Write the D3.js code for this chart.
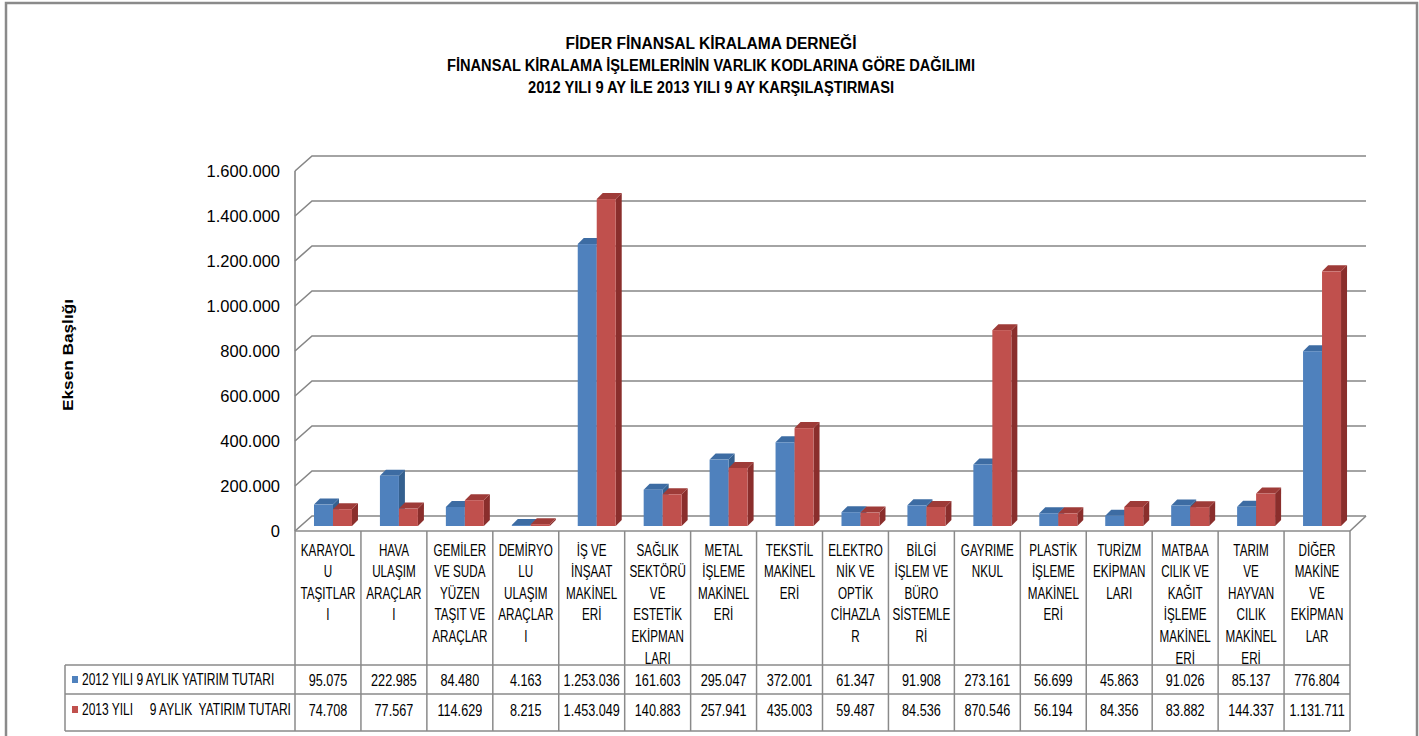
<!DOCTYPE html>
<html><head><meta charset="utf-8">
<script src="https://cdn.jsdelivr.net/npm/d3@7"></script>
<style>
html,body{margin:0;padding:0;background:#fff;}
svg{display:block;}
text{font-family:"Liberation Sans",Arial,sans-serif;fill:#000;}
</style></head>
<body>
<svg id="c" width="1419" height="736"></svg>
<script>
// ---------------- data ----------------
const titleLines = [
  "FİDER FİNANSAL KİRALAMA DERNEĞİ",
  "FİNANSAL KİRALAMA İŞLEMLERİNİN VARLIK KODLARINA GÖRE DAĞILIMI",
  "2012 YILI 9 AY İLE 2013 YILI 9 AY KARŞILAŞTIRMASI"
];
const axisTitle = "Eksen Başlığı";
const categories = [
  ["KARAYOL","U","TAŞITLAR","I"],
  ["HAVA","ULAŞIM","ARAÇLAR","I"],
  ["GEMİLER","VE SUDA","YÜZEN","TAŞIT VE","ARAÇLAR"],
  ["DEMİRYO","LU","ULAŞIM","ARAÇLAR","I"],
  ["İŞ VE","İNŞAAT","MAKİNEL","ERİ"],
  ["SAĞLIK","SEKTÖRÜ","VE","ESTETİK","EKİPMAN","LARI"],
  ["METAL","İŞLEME","MAKİNEL","ERİ"],
  ["TEKSTİL","MAKİNEL","ERİ"],
  ["ELEKTRO","NİK VE","OPTİK","CİHAZLA","R"],
  ["BİLGİ","İŞLEM VE","BÜRO","SİSTEMLE","Rİ"],
  ["GAYRIME","NKUL"],
  ["PLASTİK","İŞLEME","MAKİNEL","ERİ"],
  ["TURİZM","EKİPMAN","LARI"],
  ["MATBAA","CILIK VE","KAĞIT","İŞLEME","MAKİNEL","ERİ"],
  ["TARIM","VE","HAYVAN","CILIK","MAKİNEL","ERİ"],
  ["DİĞER","MAKİNE","VE","EKİPMAN","LAR"]
];
const seriesNames = ["2012 YILI 9 AYLIK YATIRIM TUTARI", "2013 YILI     9 AYLIK  YATIRIM TUTARI"];
const values2012 = [95075,222985,84480,4163,1253036,161603,295047,372001,61347,91908,273161,56699,45863,91026,85137,776804];
const values2013 = [74708,77567,114629,8215,1453049,140883,257941,435003,59487,84536,870546,56194,84356,83882,144337,1131711];
const yTicks = [0,200000,400000,600000,800000,1000000,1200000,1400000,1600000];

// ---------------- layout ----------------
const svg = d3.select("#c");
const loc = d3.formatLocale({decimal:",", thousands:".", grouping:[3], currency:["",""]});
const fmt = loc.format(",d");

const left = 295, right = 1350;        // front edge of plot / table columns
const depthX = 17, depthY = 15;        // wall depth offset
const floorFront = 531, floorBack = floorFront - depthY;
const yMax = 1600000, plotH = 360;

const x = d3.scaleBand().domain(d3.range(categories.length)).range([left, right]).padding(0);
const yBack = d3.scaleLinear().domain([0, yMax]).range([floorBack, floorBack - plotH]);
const yFront = d3.scaleLinear().domain([0, yMax]).range([floorFront, floorFront - plotH]);
const barBase = floorFront - 5;
const yBar = d3.scaleLinear().domain([0, yMax]).range([barBase, barBase - plotH]);

const gridCol = "#868686";
const colors = [
  {front:"#4F81BD", top:"#3D6CA3", side:"#34608F"},
  {front:"#C0504D", top:"#9E3B38", side:"#8A2E2C"}
];

// outer frame
svg.append("rect").attr("x",6).attr("y",3).attr("width",1411).attr("height",745)
  .attr("fill","none").attr("stroke","#8a8a8a").attr("stroke-width",2.5);

// title
const titleWidths = [291, 528, 366];
const titleBase = [48.5, 70.5, 93];
titleLines.forEach((t,i)=>{
  svg.append("text").attr("x",711).attr("y",titleBase[i]).attr("text-anchor","middle")
    .attr("font-weight","bold").attr("font-size",16)
    .attr("textLength",titleWidths[i]).attr("lengthAdjust","spacingAndGlyphs").text(t);
});

// axis title
svg.append("text").attr("transform","translate(73,355) rotate(-90)").attr("text-anchor","middle")
  .attr("font-weight","bold").attr("font-size",15.5).attr("textLength",112)
  .attr("lengthAdjust","spacingAndGlyphs").text(axisTitle);

// gridlines (back wall + left side wall)
const grid = svg.append("g").attr("stroke",gridCol).attr("stroke-width",1.6).attr("fill","none");
yTicks.forEach(v=>{
  grid.append("path").attr("d",
    `M${left},${yFront(v)}L${left+depthX},${yBack(v)}L${right+depthX-1},${yBack(v)}`);
});
grid.append("line").attr("x1",left).attr("x2",left).attr("y1",yFront(yMax)).attr("y2",floorFront);
grid.append("line").attr("x1",right).attr("x2",right+depthX-1).attr("y1",floorFront).attr("y2",floorBack);

// y axis labels
const yAxis = d3.axisLeft(yFront).tickValues(yTicks).tickFormat(fmt).tickSize(0).tickPadding(0);
const ag = svg.append("g").attr("transform","translate(280,0)").call(yAxis);
ag.select(".domain").remove();
ag.selectAll("text").attr("font-size",16.5).attr("font-family","'Liberation Sans',Arial,sans-serif")
  .attr("fill","#000").attr("dy","0.36em");

// bars
const bw = x.bandwidth();
const barW = bw*0.288, barOff = bw*0.288, bd = 6;
function drawBar(g, xv, v, c){
  const yt = yBar(v), yb = barBase;
  g.append("path").attr("fill",c.side)
    .attr("d",`M${xv+barW},${yt}L${xv+barW+bd},${yt-bd}L${xv+barW+bd},${yb-bd}L${xv+barW},${yb}Z`);
  g.append("path").attr("fill",c.top)
    .attr("d",`M${xv},${yt}L${xv+bd},${yt-bd}L${xv+barW+bd},${yt-bd}L${xv+barW},${yt}Z`);
  g.append("rect").attr("x",xv).attr("y",yt).attr("width",barW).attr("height",yb-yt).attr("fill",c.front);
}
const bars = svg.append("g");
categories.forEach((c,i)=>{
  const g = bars.append("g");
  drawBar(g, x(i)+barOff, values2012[i], colors[0]);
  drawBar(g, x(i)+barOff+barW, values2013[i], colors[1]);
});

// data table
const rowTop = 665, rowMid = 694, rowBot = 731, legLeft = 65;
const tg = svg.append("g").attr("stroke","#8a8a8a").attr("stroke-width",1.5);
tg.append("line").attr("x1",left).attr("x2",right).attr("y1",floorFront).attr("y2",floorFront);
[rowTop,rowMid,rowBot].forEach(yv=>{
  tg.append("line").attr("x1",legLeft).attr("x2",right).attr("y1",yv).attr("y2",yv);
});
tg.append("line").attr("x1",legLeft).attr("x2",legLeft).attr("y1",rowTop).attr("y2",rowBot);
d3.range(categories.length+1).forEach(i=>{
  const xv = i<categories.length ? x(i) : right;
  tg.append("line").attr("x1",xv).attr("x2",xv).attr("y1",floorFront).attr("y2",rowBot);
});

// scaled text helper
function stext(g, xv, yv, t, size, sx, anchor){
  return g.append("text").attr("transform",`translate(${xv},${yv}) scale(${sx},1)`)
    .attr("text-anchor",anchor||"middle").attr("font-size",size)
    .style("white-space","pre").text(t);
}
const lab = svg.append("g");
categories.forEach((lines,i)=>{
  const cx = x(i)+bw/2;
  lines.forEach((l,j)=> stext(lab, cx, 555.5 + j*21.6, l, 16, 0.73));
  stext(lab, cx, 685.5, fmt(values2012[i]), 16, 0.79);
  stext(lab, cx, 715.5, fmt(values2013[i]), 16, 0.79);
});
// legend keys
[0,1].forEach(k=>{
  const cy = k===0 ? 679.5 : 709.5;
  svg.append("rect").attr("x",72).attr("y",cy-3.5).attr("width",6).attr("height",7).attr("fill",colors[k].front);
  stext(svg, 82, cy+5.5, seriesNames[k], 16, 0.75, "start");
});
</script>
</body></html>
